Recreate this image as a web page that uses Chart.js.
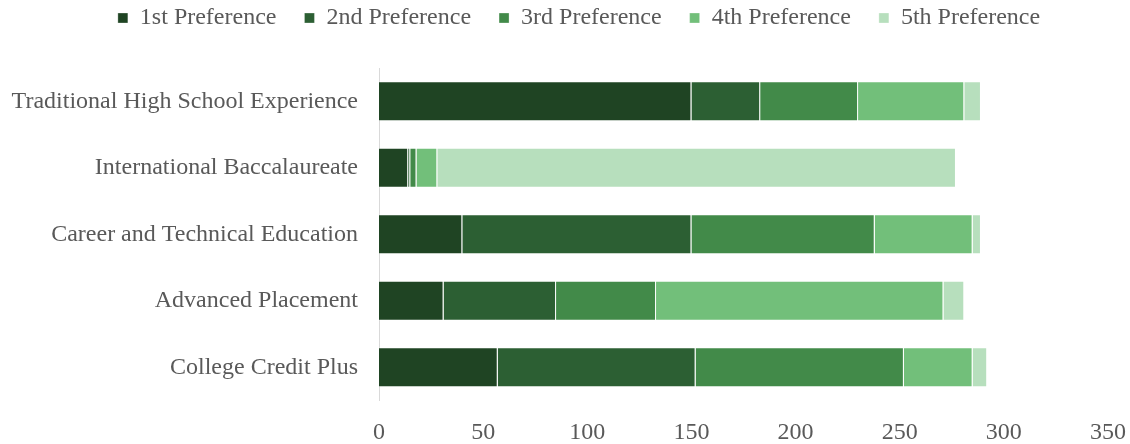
<!DOCTYPE html>
<html>
<head>
<meta charset="utf-8">
<script src="https://cdn.jsdelivr.net/npm/chart.js@4/dist/chart.umd.min.js"></script>
<style>
  body { margin: 0; background: #fff; }
  #chart { display: block; }
</style>
</head>
<body>
<canvas id="chart" width="1130" height="444"></canvas>
<script>
  // categories, top to bottom
  const categorias = [
    "Traditional High School Experience",
    "International Baccalaureate",
    "Career and Technical Education",
    "Advanced Placement",
    "College Credit Plus"
  ];

  const seriesNames = ["1st Preference", "2nd Preference", "3rd Preference", "4th Preference", "5th Preference"];

  const pref1 = [150, 14, 40, 31, 57];
  const pref2 = [33, 1, 110, 54, 95];
  const pref3 = [47, 3, 88, 48, 100];
  const pref4 = [51, 10, 47, 138, 33];
  const pref5 = [8, 249, 4, 10, 7];

  const colores = ["#1f4423", "#2c5f33", "#428a49", "#72bf7a", "#b7dfbd"];
  const textColor = "#595959";
  const fontFamily = "'Liberation Serif', 'Times New Roman', serif";

  const valores = [pref1, pref2, pref3, pref4, pref5];

  let datasets = valores.map((data, i) => ({
    label: seriesNames[i],
    data: data,
    backgroundColor: colores[i],
    borderColor: "rgba(255,255,255,0.3)",
    borderWidth: 1,
    barPercentage: 0.6,
    categoryPercentage: 1
  }));

  // fijar la altura y posicion de la leyenda
  const legendHeight = {
    id: "legendHeight",
    beforeInit(chart) {
      const fit = chart.legend.fit;
      chart.legend.fit = function () {
        fit.bind(chart.legend)();
        this.height = 90;
      };
    },
    afterLayout(chart) {
      chart.legend.left += 14;
      chart.legend.right += 14;
    }
  };

  let ctx = document.getElementById("chart").getContext("2d");

  new Chart(ctx, {
    type: "bar",
    data: {
      labels: categorias,
      datasets: datasets
    },
    plugins: [legendHeight],
    options: {
      indexAxis: "y",
      responsive: false,
      animation: false,
      layout: {
        padding: { top: -22, right: 0, left: 0, bottom: 0 }
      },
      plugins: {
        legend: {
          position: "top",
          labels: {
            boxWidth: 10,
            boxHeight: 10,
            padding: 28,
            color: textColor,
            font: { family: fontFamily, size: 24 }
          }
        },
        tooltip: { enabled: false }
      },
      scales: {
        x: {
          stacked: true,
          min: 0,
          max: 350,
          ticks: {
            stepSize: 50,
            padding: 18,
            color: textColor,
            font: { family: fontFamily, size: 24 }
          },
          grid: { display: false, drawTicks: false },
          border: { display: false },
          afterFit: (axis) => {
            axis.height = 43.5;
            axis.paddingRight = 22;
          }
        },
        y: {
          stacked: true,
          ticks: {
            padding: 21,
            color: textColor,
            font: { family: fontFamily, size: 24 }
          },
          grid: { display: false, drawTicks: false },
          border: { display: true, color: "#d9d9d9", width: 1 },
          afterFit: (axis) => { axis.width = 379; }
        }
      }
    }
  });
</script>
</body>
</html>
